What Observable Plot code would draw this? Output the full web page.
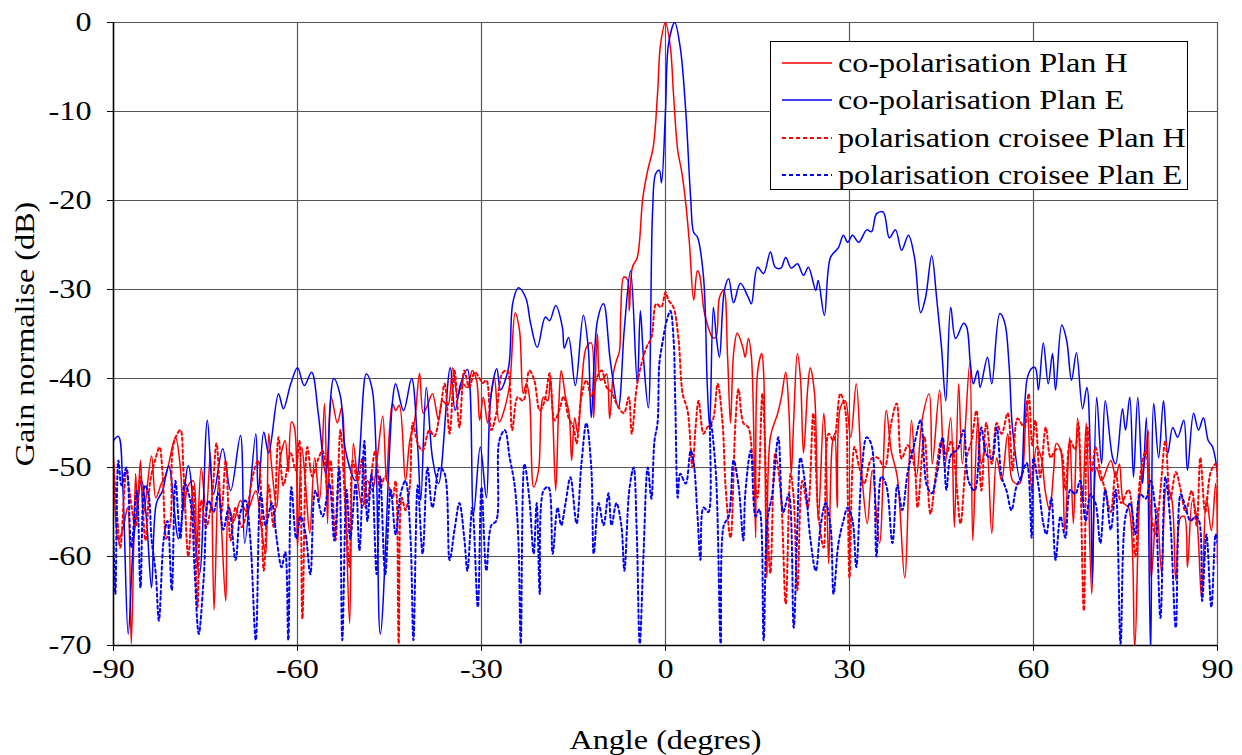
<!DOCTYPE html>
<html>
<head>
<meta charset="utf-8">
<script src="https://cdn.jsdelivr.net/npm/d3@7"></script>
<script src="https://cdn.jsdelivr.net/npm/@observablehq/plot@0.6"></script>
<style>
  body { margin: 0; background: #fff; }
  #wrap { position: relative; width: 1242px; height: 755px; }
  #chart svg text { font-family: "Liberation Serif", "Times New Roman", serif !important; }
  #legend { position: absolute; left: 770px; top: 41px; width: 416px; height: 147px;
            border: 1px solid #000; background: #fff; font-family: "Liberation Serif", "Times New Roman", serif; font-size: 28px; }
  .row { position: absolute; left: 0; height: 36px; display: flex; align-items: center; white-space: nowrap; }
  .row svg { margin-left: 11px; margin-right: 6px; }
  .row span { display: inline-block; transform: scaleX(1.15); transform-origin: left center; }
</style>
</head>
<body>
<div id="wrap"><div id="chart"></div><div id="legend"></div></div>
<script>
const xTicks = [-90, -60, -30, 0, 30, 60, 90];
const yTicks = [-70, -60, -50, -40, -30, -20, -10, 0];
const seriesNames = ["co-polarisation Plan H", "co-polarisation Plan E", "polarisation croisee Plan H", "polarisation croisee Plan E"];
const seriesColors = ["#ff0000", "#0000ff", "#ff0000", "#0000ff"];
const seriesDashed = [false, false, true, true];

// co-polarisation Plan H: [angle (deg), gain (dB)]
const coH = [[-90,-48.9],[-89.2,-58.2],[-88.4,-56.7],[-87.7,-54.5],[-87.1,-69.8],[-86.4,-50.7],[-86.1,-54.5],[-85.6,-49.2],[-85.1,-55.2],[-83.8,-48.7],[-83.1,-53.4],[-82.2,-51.8],[-81.4,-50.7],[-79.9,-46.6],[-79.1,-50],[-78.6,-54.8],[-77.8,-52],[-77,-51.5],[-76.5,-60],[-75.7,-50],[-74.9,-55],[-74.2,-48.4],[-73.6,-66],[-72.9,-51.5],[-72.4,-56.7],[-71.7,-65],[-71.2,-54.5],[-70.4,-56],[-69.3,-53.7],[-68.3,-55],[-66.8,-52.6],[-66,-56.3],[-65.2,-59.7],[-64.7,-46.2],[-64.2,-50],[-63.4,-54.5],[-62.8,-48.9],[-62,-47],[-61.5,-50.5],[-61,-44.9],[-60.5,-45.5],[-60,-59],[-59.3,-47.7],[-58.7,-51.8],[-58,-57.4],[-57.2,-48.9],[-56.4,-53.7],[-55.6,-42.8],[-55.1,-56.3],[-54.5,-42.1],[-53.5,-45],[-52.8,-43.3],[-52.2,-52.9],[-51.5,-67.5],[-50.9,-47.3],[-50.2,-51.5],[-49.4,-54.5],[-48.6,-51.5],[-47.8,-52.6],[-47,-48.9],[-46.1,-44.2],[-45.5,-51.5],[-45,-45.8],[-44.5,-42.8],[-44,-43.6],[-43.4,-43],[-42.4,-51.5],[-41.7,-47],[-40.9,-44.7],[-40.1,-39.4],[-39.5,-43.9],[-38.8,-43],[-38,-41.7],[-37,-44.7],[-36.4,-42.5],[-35.5,-43],[-34.7,-38.8],[-33.9,-42],[-33.1,-40.6],[-32.3,-41],[-31.5,-39.1],[-30.8,-40.2],[-30.3,-44.7],[-29.7,-42.1],[-29,-45],[-28.4,-41.7],[-27.9,-39.9],[-27.1,-44.9],[-26.2,-43.3],[-25.4,-40.6],[-24.5,-32.6],[-23.8,-34.6],[-23.2,-41.7],[-22.7,-40.6],[-22.2,-42],[-21.5,-52.2],[-20.7,-50.3],[-19.9,-42.1],[-19.2,-42.5],[-18.8,-39.9],[-18.4,-44],[-17.9,-52.6],[-17.4,-43],[-17,-39.1],[-16.3,-42.1],[-15.7,-44],[-15.3,-49.2],[-14.8,-44.4],[-14.3,-46.2],[-13.7,-41],[-12.9,-36.5],[-12.1,-36],[-11.7,-44.4],[-11.1,-35],[-10.6,-40.2],[-10.1,-40],[-9.6,-39.5],[-9.1,-44.5],[-8.5,-39.4],[-8,-38],[-7.5,-36.9],[-7.3,-32.7],[-6.8,-28.6],[-6.2,-28.9],[-5.9,-32.4],[-5.4,-27.5],[-4.6,-26.4],[-3.7,-19.7],[-2.9,-16.6],[-2,-14],[-1.3,-8],[-0.8,-2.4],[0,0],[0.8,-2.8],[1.3,-8],[2,-14.4],[2.6,-16.6],[3.3,-20.3],[3.9,-24.8],[4.6,-31.2],[5.2,-27.9],[5.5,-28.2],[6.2,-32],[6.5,-33.1],[7.7,-35.4],[8.2,-35.4],[8.8,-30.9],[9.5,-30.1],[10.1,-37.2],[10.6,-45],[11.1,-37.2],[11.7,-34.9],[12.6,-36.5],[13,-37.6],[13.5,-35.5],[14,-37.5],[14.7,-57.9],[15,-39.4],[15.7,-37.2],[16,-39.4],[16.5,-62.4],[17.1,-46.6],[18.3,-43.9],[18.9,-42.1],[19.6,-39.3],[20.1,-43.3],[20.5,-50.7],[20.9,-44.7],[21.5,-37.2],[22,-39.9],[22.5,-48.4],[23.2,-41],[23.6,-38.8],[24.3,-41.7],[24.9,-56],[25.8,-43.9],[26.1,-46.6],[26.6,-60.8],[27.2,-47.3],[27.6,-46.2],[28,-54.5],[28.5,-43.3],[29.3,-42.5],[30.2,-46.6],[31.1,-40.6],[32,-50.7],[32.9,-56.3],[33.7,-50.3],[34.9,-58.5],[36,-43.6],[36.8,-48.1],[37.8,-51.1],[39,-62.4],[40.1,-44.7],[40.9,-51.1],[41.9,-44.4],[43,-41.7],[43.5,-49.6],[44.7,-41.3],[45.5,-50],[46.5,-44.4],[47.1,-56.7],[47.8,-40.6],[48.4,-49.6],[49.6,-38.3],[50.1,-58.2],[50.9,-44.7],[51.5,-49.6],[52.3,-47.3],[53.2,-57.4],[54,-48.9],[54.8,-51.5],[55.8,-46.2],[56.6,-51.5],[57.7,-51.8],[58.9,-42.5],[59.7,-52.6],[60.5,-47.7],[61.3,-49],[61.9,-52.6],[62.6,-54.8],[63.3,-50.3],[63.7,-47.3],[64.4,-48],[65.1,-57.1],[65.9,-46.6],[66.5,-56.3],[67.2,-44.4],[68,-54],[68.6,-45],[69.5,-64.2],[70.3,-50],[71.1,-51.5],[72.6,-49.2],[73.4,-51.1],[74,-49.6],[74.7,-54],[75.5,-54.5],[76.5,-70.2],[77.4,-52.6],[78.3,-48.4],[78.7,-45.8],[79.2,-62.4],[80.1,-54.5],[80.9,-61.9],[81.7,-52.2],[82.5,-53.4],[83.2,-62.7],[84,-55.6],[84.6,-55.5],[85.1,-61.2],[85.9,-53.7],[86.6,-55.6],[87.4,-64.6],[88.2,-53.4],[89,-57.1],[89.7,-51.8],[90,-60.8]];

// co-polarisation Plan E
const coE = [[-90,-47],[-89.2,-46.5],[-88.5,-52],[-87.6,-68.7],[-86.7,-58],[-85.4,-51.5],[-84.6,-56],[-83.8,-63.5],[-83,-54],[-82,-52.6],[-81,-49.8],[-79.4,-58],[-77.8,-49.8],[-76,-62],[-74.7,-44.7],[-73.7,-53],[-72.2,-47.9],[-70.9,-52.6],[-69.3,-46.4],[-68.6,-58.5],[-66.8,-46.2],[-66.4,-52.9],[-65.5,-46],[-64.7,-48.4],[-63.1,-41.7],[-62.3,-43.4],[-61.1,-40.6],[-60,-38.8],[-58.9,-40.8],[-57.7,-39.3],[-56.6,-44],[-55.4,-50.7],[-54.1,-40],[-53,-42],[-52.2,-48],[-50.5,-51.5],[-48.8,-39.5],[-47.8,-41.3],[-46.5,-68.7],[-44.5,-42.5],[-44,-40.6],[-42.7,-43.6],[-41.4,-40],[-40.4,-47.7],[-39.9,-53.7],[-39,-41],[-38,-48.9],[-37,-51.8],[-35.1,-38.8],[-34.3,-43.6],[-33.4,-40.6],[-32.3,-39],[-31.3,-55.2],[-30.2,-47.7],[-29.2,-53.4],[-28.5,-42.1],[-27.5,-38.9],[-26.9,-41.3],[-25.6,-38.8],[-24.9,-31.5],[-24,-29.8],[-22.8,-30.9],[-22,-33.8],[-20.9,-36.5],[-19.6,-33.1],[-18.9,-33.5],[-17.9,-31.8],[-16.8,-34.3],[-16.5,-36.6],[-15.8,-35.4],[-14.7,-40.8],[-13.4,-32.9],[-12.6,-36.5],[-12.1,-44.4],[-11.1,-33.5],[-10.1,-31.6],[-9,-38],[-7.7,-43.3],[-6.7,-34.3],[-5.7,-27.9],[-4.6,-40.6],[-4.1,-32.4],[-3.6,-37.6],[-2.8,-43.3],[-2.1,-21.1],[-1.6,-17],[-1,-16.6],[-0.65,-18],[0,-9.9],[0.5,-2.4],[1.5,0],[2.4,-2.8],[3.3,-9.9],[4.1,-19.7],[4.6,-23.6],[5.2,-24.1],[6.2,-28.6],[6.8,-40.6],[7.2,-45.5],[7.8,-32],[8.3,-35.4],[8.8,-37.6],[9.6,-30.1],[10.3,-28.8],[11.1,-31.5],[12.2,-29.3],[13.5,-30.9],[14,-31.6],[15,-27.5],[16,-28.2],[17.1,-25.8],[17.9,-27.5],[18.8,-27.6],[19.6,-26.4],[20.5,-27.6],[21.5,-27.1],[22.5,-28.4],[23.3,-27.5],[24.5,-30.1],[24.9,-29],[25.9,-32.9],[26.9,-26.4],[28.2,-25.3],[29,-23.9],[29.7,-24.7],[30.5,-23.9],[31.5,-24.7],[32.8,-23.3],[33.6,-23.5],[34.4,-21.5],[35.5,-21.3],[36.5,-24.2],[37.5,-23.3],[38.5,-25.6],[39.6,-23.9],[40.6,-26.4],[41.6,-32.6],[42.4,-30.9],[43.4,-26.2],[44.2,-30.9],[45,-36.5],[45.7,-42.5],[46.5,-32],[47.3,-35.5],[48.6,-33.8],[49.1,-34.2],[49.7,-38.3],[50.2,-40.6],[50.9,-39.1],[51.3,-41],[52.5,-37.6],[53.2,-40.6],[54.5,-32.7],[55.3,-33.7],[56,-38.3],[56.6,-45.8],[57.9,-51.5],[59,-39.9],[59.8,-38.8],[60.3,-38.8],[60.8,-41.3],[61.6,-36],[62.4,-40.6],[63.1,-37.2],[63.6,-41.3],[64.6,-34],[65.4,-35.7],[66.2,-40.2],[67,-37.1],[68,-43.4],[68.7,-41],[69.3,-49.6],[69.6,-63],[70.3,-42.1],[71.1,-49.6],[71.7,-42.5],[72.9,-48.9],[73.4,-49.6],[74.5,-43.4],[75,-45.8],[75.7,-42.1],[76.3,-51.1],[77,-42.1],[77.8,-51.8],[78.4,-44.4],[79.1,-71],[79.6,-42.8],[80.4,-48.9],[81.2,-42.5],[81.9,-48.4],[82.7,-45.5],[83.5,-46.6],[84.5,-44.7],[85.1,-50.3],[86.1,-43.9],[86.9,-45.8],[87.7,-44.4],[88.5,-47],[89.2,-47.7],[90,-50.7]];

// polarisation croisee Plan H
const xH = [[-90,-49.6],[-89.5,-54.5],[-88.9,-59],[-88.2,-52.2],[-87.9,-50.3],[-87.2,-53.7],[-86.4,-56.7],[-85.6,-51],[-84.8,-58.2],[-84,-51.5],[-83.1,-48.9],[-82.5,-47.7],[-82,-50.7],[-81.4,-58],[-80.7,-56],[-80.2,-47.3],[-79.1,-45.8],[-78.6,-50.3],[-77.8,-60],[-77,-52],[-76.3,-65.7],[-75.7,-53.7],[-74.9,-56.7],[-74,-53.7],[-73.2,-47.3],[-72.4,-55],[-71.7,-49.2],[-70.9,-58.2],[-70.1,-54.5],[-69.1,-56.7],[-68.3,-55],[-67.2,-50.7],[-66.4,-49.2],[-65.5,-61.6],[-64.7,-52],[-63.9,-56.7],[-63.1,-46.6],[-62.3,-52],[-61.1,-48.4],[-60.3,-50.3],[-59.7,-47],[-59.2,-67],[-58.4,-47.7],[-57.6,-51],[-56.7,-49.2],[-55.9,-48.1],[-55.1,-52.9],[-54.6,-49.2],[-53.8,-58.2],[-53,-45.8],[-52.2,-54.5],[-51.5,-61.2],[-51,-49.2],[-50.2,-51.5],[-49.4,-48.9],[-48.9,-54.5],[-48.1,-51.5],[-47.3,-48.1],[-46.5,-52.2],[-45.7,-51],[-44.5,-53.4],[-44,-51.5],[-43.5,-69.8],[-43,-53.4],[-42.4,-54.8],[-41.7,-52.2],[-41.2,-45],[-40.4,-47.3],[-39.6,-48.1],[-38.5,-45.8],[-37.7,-46.5],[-36.8,-43.9],[-36,-40.6],[-35.2,-46.2],[-34.4,-39.1],[-33.6,-45.5],[-32.8,-39.1],[-32,-41],[-31.1,-39.3],[-30.3,-40],[-29.8,-40.5],[-29.2,-40.2],[-28.4,-45.8],[-27.6,-44],[-26.6,-39.4],[-25.8,-39.1],[-25,-45.8],[-24.1,-42.1],[-23.2,-42.5],[-22.2,-39.1],[-21.4,-40.2],[-20.5,-43.6],[-19.7,-42.5],[-18.9,-39.4],[-18.1,-44.7],[-17.3,-43.5],[-16.6,-42],[-15.8,-44.4],[-15,-45.5],[-14.5,-47.3],[-13.7,-42],[-12.9,-40.2],[-12.1,-42],[-11.2,-39.9],[-10.4,-39.1],[-9.6,-41],[-8.8,-41.5],[-8,-42.8],[-6.8,-43.9],[-6,-42.1],[-5.5,-46.2],[-4.7,-41],[-3.9,-38.3],[-3.1,-36.5],[-2.3,-35.4],[-1.5,-31.6],[-0.7,-32],[0,-30.3],[0.5,-31.2],[1.3,-32],[2.1,-35.4],[2.8,-41.7],[3.6,-43.6],[4.4,-50],[4.9,-45.5],[5.4,-42.5],[6.2,-46.2],[6.8,-45.5],[7.7,-44.7],[8.5,-40.6],[9.3,-45],[9.8,-52.2],[10.6,-57.9],[11.4,-45],[11.9,-41.2],[12.7,-45],[13.5,-45.5],[14.2,-49],[15,-53.4],[15.8,-41.7],[16.5,-53.4],[17.1,-61.9],[17.9,-48.4],[18.8,-53],[19.6,-65.3],[20.4,-50.7],[20.9,-53.4],[21.5,-63.8],[22.3,-51.5],[23.2,-54.5],[24.1,-43.9],[24.9,-55],[25.8,-59],[26.6,-46.2],[27.4,-47],[28.5,-41.7],[29.3,-43.5],[29.7,-52.6],[30,-62.4],[30.8,-47.7],[31.6,-50],[32.4,-51.8],[33.6,-49],[34.6,-48.9],[35.7,-50],[36.8,-45],[37.7,-42.8],[38.5,-49],[39.5,-47.5],[40.6,-50],[41.1,-54.5],[42.2,-46.5],[43.2,-55.2],[44.2,-50],[45,-47],[45.8,-48.5],[46.6,-47],[47.4,-51.5],[48.1,-56.3],[49.1,-48.9],[49.9,-47],[50.7,-43.6],[51.5,-52.6],[52.3,-45],[53.2,-49.6],[54,-45],[54.8,-46.2],[55.8,-43.9],[56.6,-50.3],[57.4,-44.5],[58.5,-45.5],[59.2,-41.7],[59.8,-47.5],[60.3,-44.7],[61.1,-51.1],[62,-45.5],[62.8,-48.9],[63.6,-48],[64.4,-48],[65.2,-52.5],[66,-47],[66.8,-48],[67.3,-45],[68.2,-66.1],[68.8,-45.5],[69.5,-50.5],[70.1,-47.7],[70.9,-50.5],[71.7,-52.6],[72.6,-55],[73.4,-50.5],[74.3,-54],[75.5,-52.5],[76.6,-60],[77.4,-51],[78.3,-48.1],[79.1,-55],[79.9,-57.5],[80.7,-52.5],[81.5,-47],[82.3,-53.5],[83.2,-50.5],[84,-52.5],[84.8,-55],[85.8,-52.6],[86.6,-56.5],[87.2,-48.9],[88,-55],[88.9,-50.5],[89.7,-49.6],[90,-54]];

// polarisation croisee Plan E
const xE = [[-90,-58.2],[-89.7,-64.2],[-89.2,-49.2],[-88.7,-52],[-87.9,-50],[-87.1,-59],[-86.2,-52.6],[-85.6,-63.5],[-84.9,-52],[-84.3,-53],[-83.8,-58],[-83.1,-62],[-82.6,-67.2],[-81.8,-58],[-81.2,-56],[-80.5,-63.8],[-79.9,-51.5],[-79.1,-58],[-78.4,-51.8],[-77.4,-54],[-76.8,-61.2],[-76.1,-68.7],[-75.3,-62.5],[-74.5,-53.7],[-73.7,-55],[-72.9,-52.9],[-72.1,-57],[-71.2,-54.5],[-70.1,-60.4],[-69.3,-55],[-68.5,-53.7],[-67.7,-58],[-66.8,-69.4],[-66,-52.9],[-65.2,-56.5],[-64.2,-54],[-63.4,-58],[-62.6,-61.2],[-62,-59.5],[-61.5,-69.4],[-61,-52.2],[-60.2,-58],[-59.5,-55.5],[-58.7,-57.4],[-57.9,-62],[-57.1,-52.6],[-55.9,-55.5],[-54.8,-51.8],[-54,-58.2],[-53.2,-50],[-52.7,-69.4],[-52,-52.5],[-51.4,-58],[-50.5,-51.8],[-49.9,-59.3],[-49.1,-47],[-48.6,-56],[-47.9,-50.7],[-47.1,-62],[-46.5,-51],[-45.7,-62],[-44.8,-52.5],[-44,-57.5],[-43.2,-53],[-42.4,-51.5],[-41.6,-57.5],[-41.1,-69.4],[-40.4,-52],[-39.6,-59.7],[-38.8,-50],[-38,-54.5],[-36.8,-50],[-36,-50.7],[-35.2,-60.4],[-34.4,-57],[-33.6,-54],[-32.8,-58],[-32.3,-61.6],[-31.5,-54.5],[-30.6,-65.7],[-30,-52.2],[-29.2,-61.6],[-28.4,-56.5],[-27.6,-56],[-27.1,-47],[-26.2,-45.8],[-25.4,-48.9],[-24.6,-52],[-24,-57.9],[-23.6,-69.8],[-23,-49.6],[-22.2,-53.5],[-21.5,-59.7],[-21,-54],[-20.5,-64.2],[-19.9,-52.6],[-19.1,-52.2],[-18.4,-59.7],[-17.6,-54.5],[-17,-56.5],[-16.3,-54],[-15.5,-51.1],[-14.5,-56.3],[-13.7,-49.5],[-12.9,-45],[-12.1,-50],[-11.7,-59.7],[-10.9,-54],[-10.1,-56.5],[-9.3,-52.9],[-8.8,-56.5],[-8,-54],[-7.2,-56.5],[-6.7,-61.6],[-5.9,-52.5],[-5.2,-50],[-4.7,-57],[-4.2,-69.8],[-3.6,-60],[-2.9,-50],[-2.3,-53.5],[-1.8,-47],[-1.3,-45],[-1,-38.3],[-0.5,-36],[0.2,-33.5],[0.8,-32.4],[1.3,-35.4],[1.6,-42.8],[2,-53.4],[2.4,-50.7],[3.3,-51.8],[4.1,-48.1],[4.6,-49.5],[5.2,-55.2],[5.7,-60.4],[6.2,-54.5],[7,-55],[7.3,-44.7],[8.2,-50.5],[9,-69.8],[9.5,-56.5],[10.3,-55.5],[11.1,-49.2],[11.9,-52],[12.7,-58.2],[13,-53],[13.9,-48.1],[14.7,-55.5],[15.3,-54.7],[16,-69.4],[16.6,-56],[17.4,-53],[18.4,-46.6],[19.2,-55],[20.1,-53],[20.9,-68],[21.5,-56.5],[22,-48.9],[22.8,-52],[23.6,-57.9],[24.5,-61.6],[25.3,-56.5],[26.1,-54],[26.9,-56.5],[27.4,-64.2],[28.2,-58.5],[29,-56],[29.7,-54.5],[30.5,-56],[31.1,-61.2],[32,-50.3],[32.8,-46.6],[33.6,-47.5],[34.4,-60],[35.2,-51],[36,-52],[37,-58.5],[37.8,-52],[38.6,-54.8],[39.5,-50.5],[40.6,-47.3],[41.6,-44.7],[42.6,-52],[43.4,-52.9],[44.3,-50.5],[45.2,-46.6],[45.8,-52.5],[46.6,-48.5],[47.6,-48],[48.6,-45.8],[49.4,-51.5],[50.4,-52.6],[51.5,-45.5],[52.3,-48.5],[53.2,-49],[54,-45.5],[54.8,-51],[55.6,-52.6],[56.4,-54.8],[57.2,-52.2],[58,-51],[58.9,-49.5],[59.7,-57.9],[60,-48.9],[60.8,-52],[61.6,-56.3],[62.1,-57.5],[62.9,-53.4],[63.6,-60.4],[64.4,-55.5],[65.2,-57.9],[66,-52.5],[66.8,-53],[67.6,-51.5],[68.5,-56],[69.3,-53],[70.1,-54],[70.9,-58.5],[71.7,-52.5],[72.6,-57],[73.4,-52.5],[74.2,-69.8],[75,-55.5],[75.8,-54],[76.6,-57.5],[77.4,-53],[78.3,-53.5],[79.1,-51.5],[79.9,-55],[80.7,-66.9],[81.5,-51.1],[82.3,-56],[83.2,-68],[84,-53],[84.8,-54.5],[85.6,-56],[86.4,-55.5],[87,-56],[87.5,-65],[88.2,-57.5],[89,-65.7],[89.7,-57.5],[90,-58.5]];

const seriesData = [coH, coE, xH, xE];
const FONT = "Liberation Serif, Times New Roman, serif";
const FS = 28;

const lineMarks = seriesData.map((d, i) => Plot.line(d, {
  x: p => p[0], y: p => p[1],
  stroke: seriesColors[i],
  strokeWidth: seriesDashed[i] ? 2 : 1.5,
  strokeDasharray: seriesDashed[i] ? "3,3" : null,
  curve: "catmull-rom",
  clip: true
}));

const chart = Plot.plot({
  width: 1242, height: 755,
  marginLeft: 113, marginRight: 25, marginTop: 22, marginBottom: 110,
  style: { fontFamily: FONT, fontSize: FS + "px", color: "#000", background: "#fff" },
  x: { domain: [-90, 90], label: null },
  y: { domain: [-70, 0], label: null },
  marks: [
    Plot.gridX(xTicks, { stroke: "#555", strokeOpacity: 1, strokeWidth: 1.2 }),
    Plot.gridY(yTicks, { stroke: "#555", strokeOpacity: 1, strokeWidth: 1.2 }),
    ...lineMarks,
    Plot.ruleX([-90], { stroke: "#000", strokeWidth: 1.5 }),
    Plot.ruleY([-70], { stroke: "#000", strokeWidth: 1.5 }),
    Plot.axisX(xTicks, { tickFormat: d => String(d), tickSize: 6, tickPadding: 7, fontSize: FS, fontFamily: FONT, label: null }),
    Plot.axisY(yTicks, { tickFormat: d => String(d), tickSize: 6, tickPadding: 16, fontSize: FS, fontFamily: FONT, label: null }),
    Plot.text(["Angle (degres)"], { frameAnchor: "bottom", dy: 95, lineAnchor: "middle", fontSize: FS, fontFamily: FONT }),
    Plot.text(["Gain normalise (dB)"], { frameAnchor: "left", dx: -88, rotate: -90, textAnchor: "middle", lineAnchor: "middle", fontSize: FS, fontFamily: FONT })
  ]
});
// widen glyphs horizontally (about their own anchor) like the reference's stretched serif text
const svgNS = "http://www.w3.org/2000/svg";
chart.querySelectorAll("text").forEach(t => {
  const tr = t.getAttribute("transform");
  const g = document.createElementNS(svgNS, "g");
  if (tr) g.setAttribute("transform", tr);
  t.parentNode.insertBefore(g, t);
  g.appendChild(t);
  t.removeAttribute("transform");
  const x = parseFloat(t.getAttribute("x")) || 0;
  const y = parseFloat(t.getAttribute("y")) || 0;
  t.setAttribute("transform", `translate(${x},${y}) scale(1.15,1) translate(${-x},${-y})`);
});
document.getElementById("chart").appendChild(chart);

// legend
const legend = document.getElementById("legend");
seriesNames.forEach((name, i) => {
  const row = document.createElement("div");
  row.className = "row";
  row.style.top = (3 + i * 37.3) + "px";
  const dash = seriesDashed[i] ? 'stroke-dasharray="4,3"' : "";
  row.innerHTML = `<svg width="50" height="10"><line x1="0" y1="5" x2="50" y2="5" stroke="${seriesColors[i]}" stroke-width="${seriesDashed[i] ? 2 : 1.5}" ${dash}/></svg><span>${name}</span>`;
  legend.appendChild(row);
});
</script>
</body>
</html>
